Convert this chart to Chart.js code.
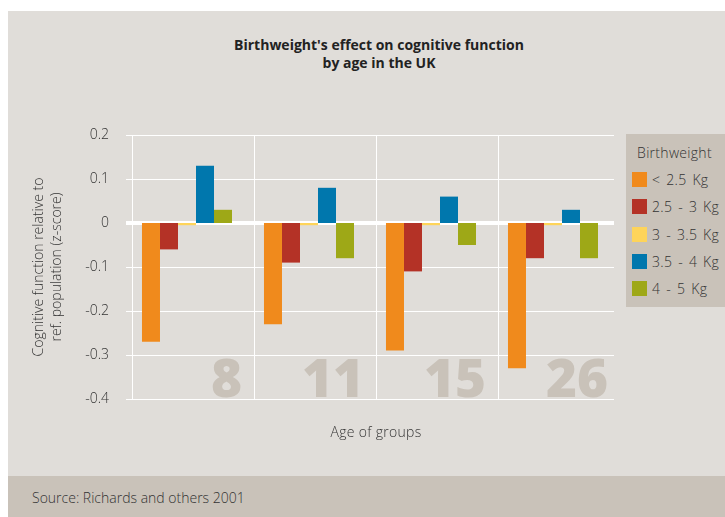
<!DOCTYPE html>
<html>
<head>
<meta charset="utf-8">
<title>Birthweight's effect on cognitive function by age in the UK</title>
<script src="https://cdn.jsdelivr.net/npm/chart.js@4/dist/chart.umd.min.js"></script>
<style>
  html, body { margin: 0; padding: 0; background: #ffffff; }
  body { width: 725px; height: 517px; position: relative; overflow: hidden; font-family: "Open Sans", Lato, sans-serif; font-weight: 300; color: #333; }
  #panel { position: absolute; left: 8px; top: 11px; width: 717px; height: 465px; background: #e0ddd9; }
  #source { position: absolute; left: 8px; top: 476px; width: 717px; height: 41px; background: #c9c2b9; }
  #source span { position: absolute; left: 24px; top: 13px; font-size: 14px; line-height: 18px; color: #333; }
  #title { position: absolute; left: 179px; top: 36px; width: 400px; text-align: center; font-weight: 700; font-size: 14px; line-height: 18px; color: #222; }
  #xtitle { position: absolute; left: 276px; top: 423px; width: 200px; text-align: center; font-size: 14px; letter-spacing: 0.3px; line-height: 18px; color: #333; }
  #legend { position: absolute; left: 626px; top: 134px; width: 99px; height: 173px; background: #c9c2b9; }
  #legend .lt { position: absolute; left: 0; top: 10px; width: 97px; text-align: center; font-size: 14px; letter-spacing: 0.3px; line-height: 18px; color: #333; }
  #legend .it { position: absolute; left: 6px; height: 18px; font-size: 14px; letter-spacing: 0.3px; word-spacing: 2px; line-height: 18px; color: #333; white-space: nowrap; }
  #legend .sw { position: absolute; left: 0; top: 1px; width: 15px; height: 15px; }
  #legend .tx { position: absolute; left: 20px; top: 0; }
  #chart { position: absolute; left: 0; top: 0; }
</style>
</head>
<body>
<div id="panel"></div>
<div id="title">Birthweight's effect on cognitive function<br>by age in the UK</div>
<canvas id="chart" width="725" height="517"></canvas>
<div id="xtitle">Age of groups</div>
<div id="legend"></div>
<div id="source"><span>Source: Richards and others 2001</span></div>
<script>
// Age groups (x categories) and birthweight bands (series)
const ageGroups = ['8', '11', '15', '26'];
const weightBands = ['< 2.5 Kg', '2.5 - 3 Kg', '3 - 3.5 Kg', '3.5 - 4 Kg', '4 - 5 Kg'];

// Cognitive function relative to reference population (z-score)
const under2_5 = [-0.27, -0.23, -0.29, -0.33];
const from2_5to3 = [-0.06, -0.09, -0.11, -0.08];
const from3to3_5 = [-0.005, -0.005, -0.005, -0.005];
const from3_5to4 = [0.13, 0.08, 0.06, 0.03];
const from4to5 = [0.03, -0.08, -0.05, -0.08];

// Value axis ticks
const yMin = -0.4;
const yMax = 0.2;
const yStep = 0.1;

const bandColors = ['#f08a1c', '#b43226', '#fed45a', '#0077ad', '#9ea817'];
const seriesValues = [under2_5, from2_5to3, from3to3_5, from3_5to4, from4to5];

const FONT = '"Open Sans", Lato, sans-serif';

// White separators between age groups and the large age numbers in each group
const groupDecor = {
  id: 'groupDecor',
  beforeDatasetsDraw(chart) {
    const { ctx, scales, chartArea } = chart;
    const x = scales.x, y = scales.y;
    const catW = x.width / ageGroups.length;
    ctx.save();
    ctx.fillStyle = '#c9c2b9';
    ctx.font = '800 53px "Open Sans", sans-serif';
    ctx.textAlign = 'right';
    ctx.textBaseline = 'alphabetic';
    ageGroups.forEach((g, i) => {
      ctx.fillText(g, x.getPixelForValue(i) + 55, y.getPixelForValue(yMin) - 2);
    });
    ctx.strokeStyle = '#ffffff';
    ctx.lineWidth = 1;
    ageGroups.forEach((g, i) => {
      const px = Math.round(x.getPixelForValue(i) - catW / 2 + 5.5) + 0.5;
      ctx.beginPath();
      ctx.moveTo(px, chartArea.top);
      ctx.lineTo(px, chartArea.bottom);
      ctx.stroke();
    });
    ctx.restore();
  }
};

const chart = new Chart(document.getElementById('chart'), {
  type: 'bar',
  data: {
    labels: ageGroups,
    datasets: weightBands.map((band, i) => ({
      label: band,
      data: seriesValues[i],
      backgroundColor: bandColors[i],
      borderWidth: 0,
      barPercentage: 1,
      categoryPercentage: 0.738
    }))
  },
  options: {
    responsive: false,
    animation: false,
    devicePixelRatio: 1,
    layout: { padding: { left: 9, top: 135, right: 111, bottom: 58 } },
    plugins: { legend: { display: false }, title: { display: false }, tooltip: { enabled: false } },
    scales: {
      x: {
        type: 'category',
        position: 'bottom',
        offset: true,
        grid: { display: false },
        border: { display: false },
        ticks: { display: false },
        afterFit(s) { s.height = 60; }
      },
      y: {
        min: yMin,
        max: yMax,
        grid: {
          color: '#ffffff',
          lineWidth: c => (c.tick && Math.abs(c.tick.value) < 1e-9 ? 4 : 1),
          drawTicks: false
        },
        border: { display: false },
        ticks: {
          stepSize: yStep,
          padding: 17,
          color: '#333',
          font: { family: FONT, size: 14, weight: '300' },
          callback: v => String(Math.round(v * 10) / 10)
        },
        title: {
          display: true,
          text: ['Cognitive function relative to', 'ref. population (z-score)'],
          color: '#333',
          font: { family: FONT, size: 14, weight: '300', lineHeight: 1.286 },
          padding: { top: 21, bottom: 0 }
        },
        afterFit(s) { s.width = 117; }
      }
    }
  },
  plugins: [groupDecor]
});

// Legend built from the chart's datasets
const legend = document.getElementById('legend');
legend.innerHTML = '<div class="lt">Birthweight</div>';
chart.data.datasets.forEach((ds, i) => {
  const item = document.createElement('div');
  item.className = 'it';
  item.style.top = (37 + i * 27.3) + 'px';
  item.innerHTML = '<span class="sw" style="background:' + ds.backgroundColor + '"></span><span class="tx"></span>';
  item.querySelector('.tx').textContent = ds.label;
  legend.appendChild(item);
});
</script>
</body>
</html>
